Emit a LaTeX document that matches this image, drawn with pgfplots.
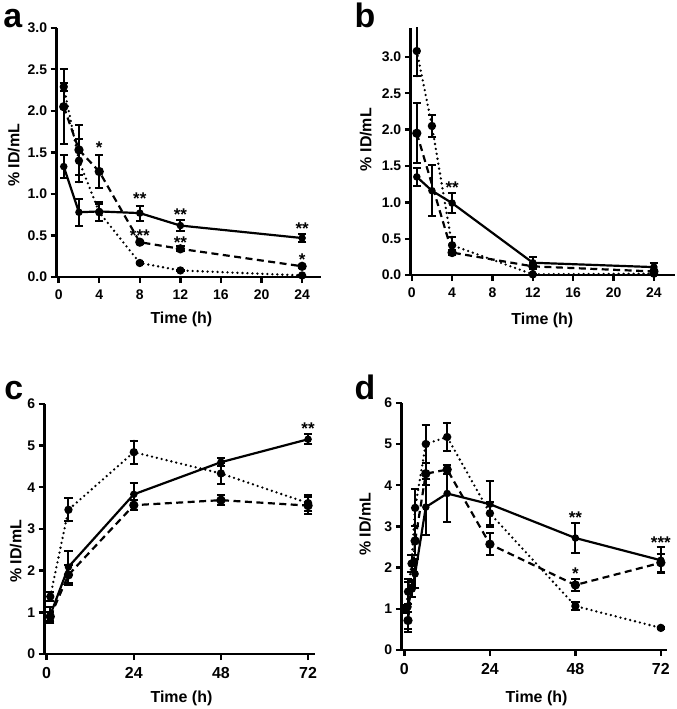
\documentclass[border=0pt]{standalone}
\usepackage{fontspec}
\setmainfont{Liberation Sans}
\usepackage{pgfplots}
\pgfplotsset{compat=1.18}
\pgfplotsset{
  prism/.style={
    scale only axis,
    axis lines=left,
    axis line style={-, line width=2.6pt, black},
    tick align=outside,
    major tick length=6pt,
    tick style={line width=2.4pt, black},
    /pgf/number format/assume math mode=true,
    tick label style={font=\bfseries\fontsize{14}{16}\selectfont},
    label style={font=\bfseries\fontsize{16}{18}\selectfont},
    xlabel={Time (h)},
    ylabel={\% ID/mL},
    clip=false,
  },
  xl/.style 2 args={xlabel style={at={(axis description cs:#1,#2)}, anchor=center}},
  yl/.style 2 args={ylabel style={at={(axis description cs:#1,#2)}, anchor=center, rotate=0}},
  onedec/.style={yticklabel style={/pgf/number format/.cd, fixed, fixed zerofill, precision=1}},
  eb/.style={
    error bars/.cd, y dir=both, y explicit,
    error bar style={line width=2pt, solid},
    error mark options={rotate=90, mark size=4.2pt, line width=2pt, solid},
  },
  solidS/.style={black, line width=2.2pt, solid, mark=*, mark size=2.6pt, mark options={solid}, eb},
  dashS/.style={black, line width=2.2pt, dash pattern=on 7pt off 4.5pt, mark=*, mark size=3.5pt, mark options={solid}, eb},
  dotS/.style={black, line width=2.6pt, line cap=round, dash pattern=on 0pt off 5pt, mark=*, mark size=2.8pt, mark options={solid}, eb},
}
\tikzset{sigstar/.style={font=\bfseries\fontsize{17}{18}\selectfont, yshift=-4pt, inner sep=0pt}}
\begin{document}
\begin{tikzpicture}
\path (0pt,0pt) rectangle (674pt,709pt);
\node[font=\bfseries\fontsize{34}{34}\selectfont] at (9pt,692pt) {a};
\node[font=\bfseries\fontsize{34}{34}\selectfont] at (362pt,695pt) {b};
\node[font=\bfseries\fontsize{34}{34}\selectfont] at (10pt,319pt) {c};
\node[font=\bfseries\fontsize{34}{34}\selectfont] at (362pt,322pt) {d};

% ---------- panel a ----------
\begin{axis}[prism, onedec, at={(53pt,433pt)}, anchor=south west, width=265pt, height=250pt,
  xmin=-0.2, xmax=25.86, ymin=0, ymax=3,
  xl={0.472}{-0.168}, yl={-0.162}{0.488}, xticklabel shift=3pt,
  xtick={0,4,8,12,16,20,24}, ytick={0,0.5,1,1.5,2,2.5,3}]
\addplot[dotS] table[x=x,y=y,y error=e] {
x y e
0.5 2.29 0.05
2 1.40 0.26
4 0.78 0.1
8 0.17 0.01
12 0.08 0.01
24 0.02 0.005
};
\addplot[dashS] table[x=x,y=y,y error=e] {
x y e
0.5 2.05 0.45
2 1.53 0.30
4 1.27 0.20
8 0.42 0.02
12 0.34 0.03
24 0.13 0.02
};
\addplot[solidS] table[x=x,y=y,y error=e] {
x y e
0.5 1.33 0.14
2 0.78 0.16
4 0.79 0.11
8 0.77 0.09
12 0.62 0.07
24 0.47 0.05
};
\node[sigstar] at (axis cs:4,1.6) {*};
\node[sigstar] at (axis cs:8,0.99) {**};
\node[sigstar] at (axis cs:8,0.55) {***};
\node[sigstar] at (axis cs:12,0.80) {**};
\node[sigstar] at (axis cs:12,0.46) {**};
\node[sigstar] at (axis cs:24,0.63) {**};
\node[sigstar] at (axis cs:24,0.26) {*};
\end{axis}

% ---------- panel b ----------
\begin{axis}[prism, onedec, at={(408pt,435pt)}, anchor=south west, width=265pt, height=248pt,
  xmin=-0.1, xmax=26.1, ymin=0, ymax=3.4, clip=true,
  xl={0.498}{-0.185}, yl={-0.17}{0.548}, xticklabel shift=3pt,
  xtick={0,4,8,12,16,20,24}, ytick={0,0.5,1,1.5,2,2.5,3}]
\addplot[dotS] table[x=x,y=y,y error=e] {
x y e
0.5 3.08 0.35
2 2.05 0.15
4 0.41 0.12
12 0.01 0.01
24 0.02 0.01
};
\addplot[dashS] table[x=x,y=y,y error=e] {
x y e
0.5 1.95 0.41
4 0.31 0.03
12 0.12 0.02
24 0.05 0.02
};
\addplot[solidS] table[x=x,y=y,y error=e] {
x y e
0.5 1.35 0.12
2 1.16 0.35
4 0.99 0.14
12 0.17 0.08
24 0.11 0.05
};
\node[sigstar] at (axis cs:4,1.25) {**};
\end{axis}

% ---------- panel c ----------
\begin{axis}[prism, at={(41pt,55pt)}, anchor=south west, width=271pt, height=251pt,
  xmin=-0.55, xmax=73.9, ymin=0, ymax=6,
  xl={0.506}{-0.175}, yl={-0.107}{0.41}, xticklabel shift=4pt,
  xticklabel style={font=\bfseries\fontsize{16}{18}\selectfont},
  xtick={0,24,48,72}, ytick={0,1,2,3,4,5,6}]
\addplot[dotS] table[x=x,y=y,y error=e] {
x y e
1 1.38 0.1
6 3.46 0.28
24 4.84 0.28
48 4.33 0.25
72 3.62 0.2
};
\addplot[dashS] table[x=x,y=y,y error=e] {
x y e
1 0.90 0.1
6 1.90 0.24
24 3.57 0.12
48 3.69 0.12
72 3.56 0.2
};
\addplot[solidS] table[x=x,y=y,y error=e] {
x y e
1 0.94 0.2
6 2.09 0.38
24 3.83 0.27
48 4.60 0.1
72 5.15 0.12
};
\node[sigstar] at (axis cs:72,5.5) {**};
\end{axis}

% ---------- panel d ----------
\begin{axis}[prism, at={(399pt,59pt)}, anchor=south west, width=266pt, height=248pt,
  xmin=-0.75, xmax=73.75, ymin=0, ymax=6,
  xl={0.508}{-0.194}, yl={-0.139}{0.508}, xticklabel shift=4pt,
  xticklabel style={font=\bfseries\fontsize{16}{18}\selectfont},
  xtick={0,24,48,72}, ytick={0,1,2,3,4,5,6}]
\addplot[dotS] table[x=x,y=y,y error=e] {
x y e
0.5 1.0 0.1
1 1.42 0.3
2 2.10 0.2
3 3.45 0.45
6 5.00 0.45
12 5.17 0.34
24 3.32 0.28
48 1.07 0.1
72 0.54 0.02
};
\addplot[dashS] table[x=x,y=y,y error=e] {
x y e
1 0.72 0.2
2 1.50 0.2
3 2.65 0.35
6 4.28 0.27
12 4.38 0.1
24 2.57 0.27
48 1.58 0.15
72 2.12 0.22
};
\addplot[solidS] table[x=x,y=y,y error=e] {
x y e
1 1.05 0.6
3 1.85 0.35
6 3.47 0.68
12 3.80 0.68
24 3.54 0.56
48 2.72 0.37
72 2.18 0.32
};
\node[sigstar] at (axis cs:48,3.3) {**};
\node[sigstar] at (axis cs:48,1.94) {*};
\node[sigstar] at (axis cs:72,2.7) {***};
\end{axis}
\end{tikzpicture}
\end{document}
